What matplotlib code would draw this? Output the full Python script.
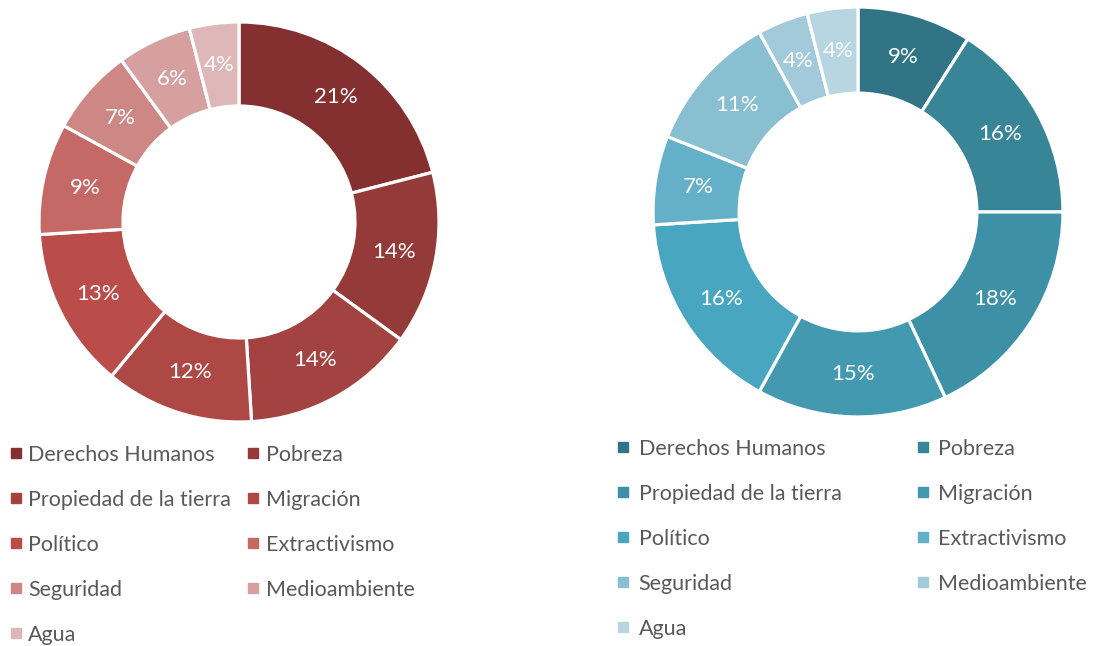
import matplotlib
matplotlib.use("Agg")
import matplotlib.pyplot as plt
from matplotlib.lines import Line2D

plt.rcParams['font.family'] = ['Lato', 'DejaVu Sans']

categories = ["Derechos Humanos", "Pobreza", "Propiedad de la tierra", "Migración",
              "Político", "Extractivismo", "Seguridad", "Medioambiente", "Agua"]
left_values = [21, 14, 14, 12, 13, 9, 7, 6, 4]
right_values = [9, 16, 18, 15, 16, 7, 11, 4, 4]
left_colors = ["#843031", "#943A39", "#A24342", "#AE4845", "#BA4C49",
               "#C56966", "#CD8886", "#D5A09F", "#DEB8B8"]
right_colors = ["#317485", "#378597", "#3D90A6", "#4399B0", "#48A6C1",
                "#64B0C8", "#88BFD1", "#A2CADA", "#B8D6E1"]

W, H = 1094, 646
fig = plt.figure(figsize=(W / 100, H / 100), dpi=100)


def donut(cx, cy, r, values, colors):
    ax = fig.add_axes([(cx - r) / W, (H - cy - r) / H, 2 * r / W, 2 * r / H])
    ax.pie(values, colors=colors, startangle=90, counterclock=False, radius=1,
           autopct=lambda p: f"{p:.0f}%", pctdistance=0.79,
           wedgeprops=dict(width=0.42, edgecolor="white", linewidth=2.3),
           textprops=dict(color="white", fontsize=16))
    ax.set_xlim(-1.01, 1.01)
    ax.set_ylim(-1.01, 1.01)
    ax.set_aspect("equal")
    ax.axis("off")
    return ax


def legend(x0, y0, colors, colspacing, textpad):
    order = [0, 2, 4, 6, 8, 1, 3, 5, 7]
    handles = [Line2D([], [], marker="s", linestyle="none", markersize=7.5,
                      markerfacecolor=colors[i], markeredgecolor=colors[i])
               for i in order]
    labels = [categories[i] for i in order]
    fig.legend(handles, labels, ncol=2, loc="upper left",
               bbox_to_anchor=(x0 / W, 1 - y0 / H), frameon=False,
               fontsize=15.5, labelcolor="#595959", handlelength=0.55,
               handletextpad=textpad, labelspacing=1.16, columnspacing=colspacing,
               borderaxespad=0, borderpad=0)


donut(239, 222, 202, left_values, left_colors)
donut(858, 212, 207, right_values, right_colors)
legend(10, 445, left_colors, 0.75, 0.3)
legend(617, 439, right_colors, 3.5, 0.45)

fig.savefig("out.png", dpi=100, facecolor="white")
